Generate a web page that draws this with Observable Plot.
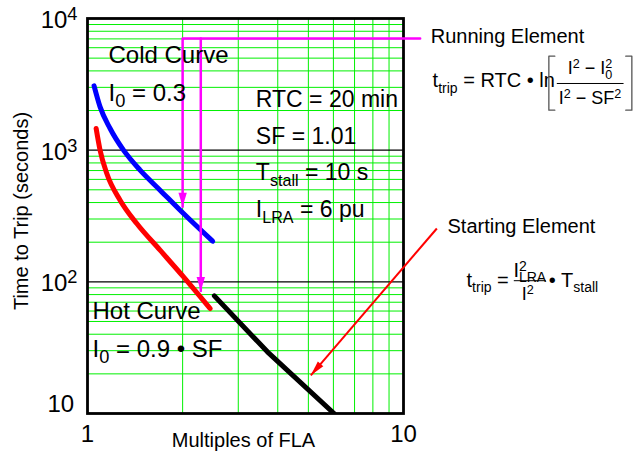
<!DOCTYPE html>
<html>
<head>
<meta charset="utf-8">
<script src="https://cdn.jsdelivr.net/npm/d3@7"></script>
<script src="https://cdn.jsdelivr.net/npm/@observablehq/plot@0.6"></script>
<style>
  html, body { margin: 0; padding: 0; background: #fff; }
  #chart { width: 642px; height: 452px; }
</style>
</head>
<body>
<div id="chart"></div>
<script>
// ---------- data ----------
// Running element, cold curve (I0 = 0.3)
const coldI = [1.049, 1.096, 1.179, 1.300, 1.467, 1.697, 2.013, 2.49];
const coldT = [3077, 2131, 1461, 1000, 705, 497, 330, 203.5];
// Running element, hot curve (I0 = 0.9·SF)
const hotI = [1.065, 1.096, 1.151, 1.268, 1.432, 1.697, 2.013, 2.443];
const hotT = [1461, 1000, 665, 417, 277, 174, 109, 62.7];
// Starting element
const startI = [2.52, 3.71, 6.03];
const startT = [78.2, 29.4, 10];

// tick labels
const xTickValues = [1, 10];
const xTickLabels = ["1", "10"];
const yTickValues = [10, 100, 1000, 10000];
const yTickLabels = ["10", "10^{2}", "10^{3}", "10^{4}"];
const gridMultipliers = [2, 3, 4, 5, 6, 7, 8, 9];
const yDecades = [10, 100, 1000];
const yMajorLines = [100, 1000];

// annotation texts
const curveNotes = ["Cold Curve", "I_{0} = 0.3", "Hot Curve", "I_{0} = 0.9 • SF"];
const paramNotes = ["RTC = 20 min", "SF = 1.01", "T_{stall} = 10 s", "I_{LRA} = 6 pu"];
const sideTitles = ["Running Element", "Starting Element"];

// ---------- layout of annotations (data-space anchors) ----------
const curvePos = [[1.165, 4617], [1.165, 2375], [1.037, 52.3], [1.037, 26.8]];
const paramPos = [[3.41, 2131], [3.41, 1110], [3.41, 591], [3.41, 311]];
const sidePos = [[12.2, 6526], [13.78, 232.9]];

const toRows = (xs, ys) => xs.map((x, i) => ({x, y: ys[i]}));
const place = (texts, pos) => texts.map((t, i) => ({text: t, x: pos[i][0], y: pos[i][1]}));
const cold = toRows(coldI, coldT);
const hot = toRows(hotI, hotT);
const start = toRows(startI, startT);
const xMinor = gridMultipliers;
const yMinor = yDecades.flatMap(d => gridMultipliers.map(m => d * m));
const curveLabels = place(curveNotes, curvePos);
const paramLabels = place(paramNotes, paramPos);
const sides = place(sideTitles, sidePos);
const yTicks = yTickValues.map((v, i) => ({v, label: yTickLabels[i]}));
const xTicks = xTickValues.map((v, i) => ({v, label: xTickLabels[i]}));

// magenta trace of the running element label
const runTrace = [
  {g: 1, x: 11.29, y: 7050}, {g: 1, x: 2.0, y: 7050}, {g: 1, x: 2.0, y: 371},
  {g: 2, x: 2.283, y: 7050}, {g: 2, x: 2.283, y: 85.3}
];
const runTips = [{x: 2.0, y: 371}, {x: 2.283, y: 85.3}];
const startArrow = [{x1: 12.75, y1: 254.2, x2: 5.09, y2: 19.5}];

// formula pieces
const formulaLead = [
  {x: 12.36, y: 2992, text: "t_{trip} = RTC • ln"},
  {x: 15.83, y: 91, text: "t_{trip} = "},
  {x: 28.84, y: 91, text: "• T_{stall}"}
];
const formulaFrac1 = [
  {x: 38.9, y: 3776, text: "I^{2} − I_{0}^{2}"},
  {x: 38.9, y: 2234, text: "I^{2} − SF^{2}"},
  {x: 24.74, y: 72.5, text: "I^{2}"}
];
const formulaFrac2 = [
  {x: 25.1, y: 108.4, text: "I_{LRA}^{2}"}
];
const fracBars = [
  {x1: 30.56, x2: 49.7, y: 3209},
  {x1: 22.34, x2: 28.2, y: 102}
];
const brackets = [
  {g: "L", x: 30.12, y: 5172}, {g: "L", x: 28.84, y: 5172}, {g: "L", x: 28.84, y: 2012}, {g: "L", x: 30.12, y: 2012},
  {g: "R", x: 50.5, y: 5172}, {g: "R", x: 52.8, y: 5172}, {g: "R", x: 52.8, y: 2012}, {g: "R", x: 50.5, y: 2012}
];

// arrowhead symbols: tip at origin, pointing up
const headMag = {draw(c) { c.moveTo(0, 0); c.lineTo(-4.2, 14); c.lineTo(4.2, 14); c.closePath(); }};
const headRed = {draw(c) { c.moveTo(0, 0); c.lineTo(-3.6, 15); c.lineTo(3.6, 15); c.closePath(); }};

const FONT = "Liberation Sans, Arial, Helvetica, sans-serif";

const svg = Plot.plot({
  width: 642,
  height: 452,
  marginLeft: 87,
  marginRight: 239,
  marginTop: 18,
  marginBottom: 39,
  x: {type: "log", domain: [1, 10], axis: null},
  y: {type: "log", domain: [10, 10000], axis: null},
  style: {fontFamily: FONT, background: "#fff", color: "#000"},
  marks: [
    Plot.ruleX(xMinor, {stroke: "#00f000", strokeWidth: 1}),
    Plot.ruleY(yMinor, {stroke: "#00f000", strokeWidth: 1}),
    Plot.ruleY(yMajorLines, {stroke: "#000", strokeWidth: 1.2}),
    Plot.frame({stroke: "#000", strokeWidth: 2.8}),
    // curves
    Plot.line(cold, {x: "x", y: "y", stroke: "#0000ff", strokeWidth: 5, curve: "monotone-x", strokeLinecap: "round"}),
    Plot.line(hot, {x: "x", y: "y", stroke: "#ff0000", strokeWidth: 5, curve: "monotone-x", strokeLinecap: "round"}),
    Plot.line(start, {x: "x", y: "y", stroke: "#000", strokeWidth: 5, strokeLinecap: "round", clip: true}),
    // magenta trace
    Plot.line(runTrace, {x: "x", y: "y", z: "g", stroke: "#ff00ff", strokeWidth: 2.5}),
    Plot.dot(runTips, {x: "x", y: "y", symbol: headMag, rotate: 180, fill: "#ff00ff", stroke: "none"}),
    // red arrow to starting element
    Plot.link(startArrow, {x1: "x1", y1: "y1", x2: "x2", y2: "y2", stroke: "#ff0000", strokeWidth: 2}),
    Plot.dot(startArrow, {x: "x2", y: "y2", symbol: headRed, rotate: -139.4, fill: "#ff0000", stroke: "none"}),
    // in-plot annotations
    Plot.text(curveLabels, {x: "x", y: "y", text: "text", textAnchor: "start", lineAnchor: "bottom", fontSize: 24, fill: "#000"}),
    Plot.text(paramLabels, {x: "x", y: "y", text: "text", textAnchor: "start", lineAnchor: "bottom", fontSize: 23, fill: "#000"}),
    // side titles
    Plot.text(sides, {x: "x", y: "y", text: "text", textAnchor: "start", lineAnchor: "bottom", fontSize: 20, fill: "#000"}),
    // formulas
    Plot.text(formulaLead, {x: "x", y: "y", text: "text", textAnchor: "start", lineAnchor: "bottom", fontSize: 20, fill: "#000"}),
    Plot.text(formulaFrac1, {x: "x", y: "y", text: "text", textAnchor: "middle", lineAnchor: "bottom", fontSize: 18, fill: "#000"}),
    Plot.text(formulaFrac2, {x: "x", y: "y", text: "text", textAnchor: "middle", lineAnchor: "bottom", fontSize: 20, fill: "#000"}),
    Plot.link(fracBars, {x1: "x1", x2: "x2", y1: "y", y2: "y", stroke: "#000", strokeWidth: 1}),
    Plot.line(brackets, {x: "x", y: "y", z: "g", stroke: "#555", strokeWidth: 1.3}),
    // tick labels
    Plot.text(yTicks.filter(d => d.v > 10), {y: "v", text: "label", frameAnchor: "left", textAnchor: "end", lineAnchor: "bottom", dx: -10, dy: 9.5, fontSize: 24, fill: "#000"}),
    Plot.text(yTicks.filter(d => d.v === 10), {y: "v", text: "label", frameAnchor: "left", textAnchor: "end", lineAnchor: "bottom", dx: -13.4, dy: -1.6, fontSize: 24, fill: "#000"}),
    Plot.text(xTicks, {x: "v", text: "label", frameAnchor: "bottom", textAnchor: "middle", lineAnchor: "bottom", dy: 28.4, fontSize: 24, fill: "#000"}),
    // axis titles
    Plot.text(["Time to Trip (seconds)"], {frameAnchor: "left", textAnchor: "middle", lineAnchor: "middle", rotate: -90, dx: -66, dy: -5, fontSize: 20, fill: "#000"}),
    Plot.text(["Multiples of FLA"], {frameAnchor: "bottom", textAnchor: "middle", lineAnchor: "bottom", dy: 33.4, dx: -2, fontSize: 20, fill: "#000"})
  ]
});

document.getElementById("chart").appendChild(svg);

// turn _{..} / ^{..} markup into sub/superscript tspans
function richText(root) {
  const NS = "http://www.w3.org/2000/svg";
  for (const t of root.querySelectorAll("text")) {
    const s = t.textContent;
    if (!/[_^]\{/.test(s)) continue;
    const fs = parseFloat(getComputedStyle(t).fontSize);
    const parts = [];
    const re = /([_^])\{([^}]*)\}/g;
    let last = 0, m;
    while ((m = re.exec(s))) {
      if (m.index > last) parts.push({type: "n", text: s.slice(last, m.index)});
      parts.push({type: m[1], text: m[2]});
      last = re.lastIndex;
    }
    if (last < s.length) parts.push({type: "n", text: s.slice(last)});
    t.textContent = "";
    t.setAttribute("xml:space", "preserve");
    t.style.whiteSpace = "pre";
    let cur = 0, pendDx = 0;
    const small = fs * (fs >= 24 ? 0.76 : 0.7);
    const offOf = type => type === "_" ? 0.26 * fs : -0.33 * fs;
    const add = (text, off, size) => {
      const ts = document.createElementNS(NS, "tspan");
      ts.textContent = text;
      if (off !== cur) ts.setAttribute("dy", off - cur);
      cur = off;
      if (size) ts.setAttribute("font-size", size);
      if (pendDx) ts.setAttribute("dx", pendDx);
      pendDx = 0;
      t.appendChild(ts);
      return ts;
    };
    for (let i = 0; i < parts.length; i++) {
      const p = parts[i];
      if (p.type === "n") { add(p.text, 0); continue; }
      const ts = add(p.text, offOf(p.type), small);
      const q = parts[i + 1];
      if (q && q.type !== "n" && q.type !== p.type) {
        const w1 = ts.getComputedTextLength();
        pendDx = -w1;
        const ts2 = add(q.text, offOf(q.type), small);
        const w2 = ts2.getComputedTextLength();
        pendDx = Math.max(0, w1 - w2);
        i++;
      }
    }
  }
}
richText(svg);
</script>
</body>
</html>
